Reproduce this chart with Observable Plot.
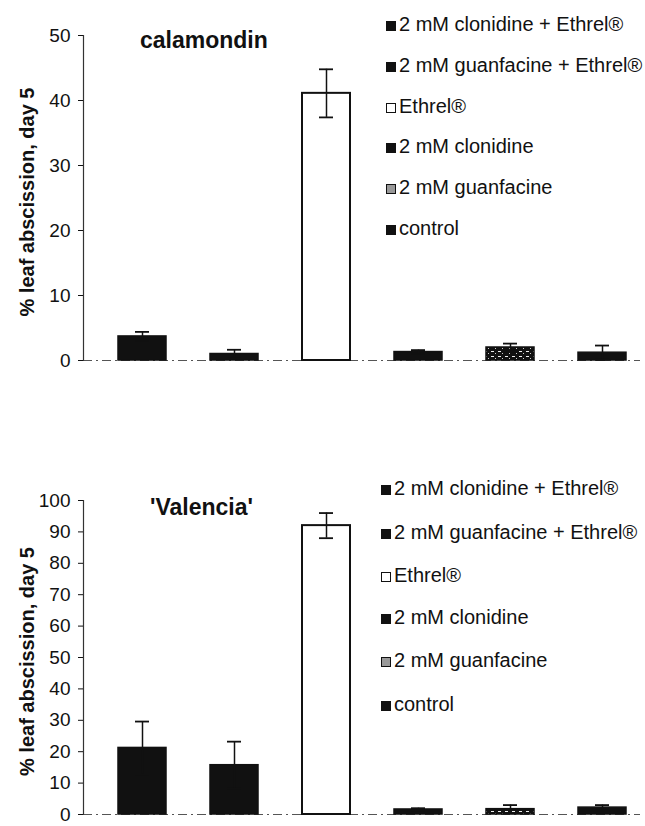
<!DOCTYPE html>
<html><head><meta charset="utf-8">
<script src="https://cdn.jsdelivr.net/npm/d3@7"></script>
<script src="https://cdn.jsdelivr.net/npm/@observablehq/plot@0.6"></script>
<style>
body{margin:0;background:#fff;font-family:"Liberation Sans",Arial,sans-serif;color:#111}
#wrap{position:relative;width:645px;height:826px;overflow:hidden}
.panel{position:absolute;left:0;width:645px}
.item{position:absolute;white-space:nowrap;font-size:20px;line-height:20px;height:20px}
.sw{display:inline-block;width:10px;height:10px;margin-right:3px;background:#111;border:1px solid #111;box-sizing:border-box;vertical-align:0px}
.sw.white{background:#fff}
.sw.speck{background:#999}
.title{position:absolute;font-weight:bold;font-size:23px;line-height:26px;white-space:nowrap}
</style>
</head><body>
<div id="wrap"></div>
<script>
// ---- data ----
const treatments = ["2 mM clonidine + Ethrel®", "2 mM guanfacine + Ethrel®", "Ethrel®", "2 mM clonidine", "2 mM guanfacine", "control"];
const calamondinMean = [3.7, 1.0, 41.1, 1.3, 2.0, 1.2];
const calamondinErr  = [0.7, 0.65, 3.7, 0.3, 0.6, 1.1];
const valenciaMean   = [21.2, 15.7, 92.0, 1.6, 1.7, 2.2];
const valenciaErr    = [8.4, 7.5, 4.0, 0.4, 1.3, 0.8];
const calamondinTicks = [0, 10, 20, 30, 40, 50];
const valenciaTicks = [0, 10, 20, 30, 40, 50, 60, 70, 80, 90, 100];
const yLabel = "% leaf abscission, day 5";

const wrap = document.getElementById("wrap");

function fillKind(t) {
  if (t === "Ethrel®") return "white";
  if (t === "2 mM guanfacine") return "speck";
  return "black";
}

function panel({id, title, means, errs, ticks, top, height, marginTop, marginBottom, titlePos, legendLeft, legendY}) {
  const rows = treatments.map((t, i) => ({t, v: means[i], lo: means[i] - errs[i], hi: means[i] + errs[i]}));
  const pid = "speck" + id;
  const plot = Plot.plot({
    width: 645, height, marginLeft: 83, marginRight: 5, marginTop, marginBottom,
    style: {fontFamily: "Liberation Sans, Arial, sans-serif", fontSize: "19px", color: "#111", background: "white"},
    x: {domain: treatments, range: [116.5, 626.5], paddingInner: 0.48, paddingOuter: 0, axis: null},
    y: {domain: [0, ticks[ticks.length - 1]], axis: null},
    marks: [
      Plot.ruleY([0], {stroke: "#555", strokeWidth: 1.2, strokeDasharray: "9 4 2 4"}),
      Plot.frame({anchor: "left", stroke: "#333", strokeWidth: 1.2}),
      Plot.axisY({ticks, tickSize: 5, tickPadding: 8, fontSize: 19}),
      Plot.barY(rows.filter(d => fillKind(d.t) === "black"), {x: "t", y: "v", fill: "#111", stroke: "#111", strokeWidth: 1.5}),
      Plot.barY(rows.filter(d => fillKind(d.t) === "white"), {x: "t", y: "v", fill: "white", stroke: "#111", strokeWidth: 2}),
      Plot.barY(rows.filter(d => fillKind(d.t) === "speck"), {x: "t", y: "v", fill: `url(#${pid})`, stroke: "#111", strokeWidth: 1.5}),
      Plot.ruleX(rows, {x: "t", y1: "lo", y2: "hi", stroke: "#111", strokeWidth: 1.5}),
      Plot.tickY(rows, {x: "t", y: "hi", stroke: "#111", strokeWidth: 1.8, insetLeft: 17, insetRight: 17}),
      Plot.tickY(rows, {x: "t", y: "lo", stroke: "#111", strokeWidth: 1.8, insetLeft: 17, insetRight: 17}),
      Plot.text([yLabel], {text: d => d, frameAnchor: "left", textAnchor: "middle", rotate: -90, dx: -56, dy: 4, fontWeight: "bold", fontSize: 20, fill: "#111"})
    ]
  });
  d3.select(plot).insert("defs", ":first-child").html(
    `<pattern id="${pid}" width="7" height="5" patternUnits="userSpaceOnUse">
       <rect width="7" height="5" fill="#111"/>
       <rect x="1" y="1" width="3" height="1" fill="#eee"/>
       <rect x="5" y="3" width="1" height="1" fill="#ccc"/>
     </pattern>`);
  const div = document.createElement("div");
  div.className = "panel";
  div.style.top = top + "px";
  div.style.height = height + "px";
  div.appendChild(plot);
  wrap.appendChild(div);

  const tt = document.createElement("div");
  tt.className = "title";
  tt.textContent = title;
  tt.style.left = titlePos[0] + "px";
  tt.style.top = (titlePos[1] - 13) + "px";
  wrap.appendChild(tt);

  treatments.forEach((t, i) => {
    const it = document.createElement("div");
    it.className = "item";
    it.style.left = legendLeft + "px";
    it.style.top = (legendY[i] - 10) + "px";
    const sw = document.createElement("span");
    sw.className = "sw " + fillKind(t);
    it.appendChild(sw);
    it.appendChild(document.createTextNode(t));
    wrap.appendChild(it);
  });
}

panel({id: 1, title: "calamondin", means: calamondinMean, errs: calamondinErr, ticks: calamondinTicks,
  top: 0, height: 410, marginTop: 35, marginBottom: 50, titlePos: [140, 40], legendLeft: 386,
  legendY: [24, 65, 106, 146, 187, 228]});
panel({id: 2, title: "'Valencia'", means: valenciaMean, errs: valenciaErr, ticks: valenciaTicks,
  top: 410, height: 416, marginTop: 90, marginBottom: 12, titlePos: [150, 507], legendLeft: 381,
  legendY: [488, 532, 575, 617, 660, 704]});
</script>
</body></html>
